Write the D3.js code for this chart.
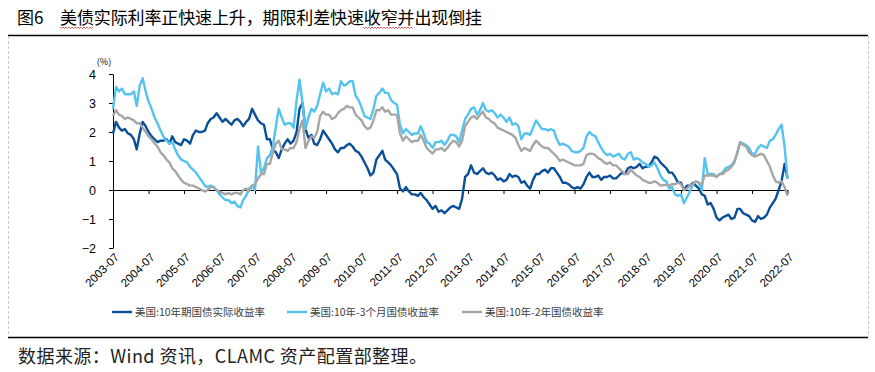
<!DOCTYPE html>
<html>
<head>
<meta charset="utf-8">
<script src="https://cdn.jsdelivr.net/npm/d3@7/dist/d3.min.js"></script>
<style>
  body { margin: 0; background: #fff; }
  svg { display: block; }
</style>
</head>
<body>
<svg id="chart" width="875" height="372"></svg>
<script>
// monthly values, first point = 2003-07, last point = 2022-07
const START_MONTH = '2003-07'

// 美国:10年期国债实际收益率
const realYield = [
  1.95, 2.35, 2.15, 2.05, 2.1, 1.95,
  1.9, 1.75, 1.4, 1.95, 2.35, 2.2, 2.0, 1.85, 1.75, 1.65, 1.7, 1.7,
  1.75, 1.6, 1.85, 1.65, 1.6, 1.55, 1.75, 1.7, 1.6, 1.9, 2.05, 2.0,
  2.0, 2.05, 2.3, 2.45, 2.5, 2.65, 2.5, 2.35, 2.45, 2.35, 2.25, 2.4,
  2.45, 2.35, 2.2, 2.35, 2.45, 2.8, 2.6, 2.4, 2.3, 2.25, 1.75, 1.75,
  1.4, 1.3, 1.1, 1.4, 1.6, 1.75, 1.6, 1.7, 2.0, 2.8, 3.0, 2.1,
  1.8, 1.9, 1.6, 1.55, 1.75, 2.05, 1.9, 1.75, 1.6, 1.4, 1.3, 1.45,
  1.45, 1.55, 1.6, 1.5, 1.35, 1.3, 1.15, 0.95, 0.75, 0.5, 0.6, 1.05,
  1.2, 1.35, 1.05, 0.95, 0.85, 0.7, 0.55, 0.05, -0.05, 0.1, -0.05, -0.15,
  -0.15, -0.2, -0.1, -0.25, -0.35, -0.5, -0.65, -0.55, -0.75, -0.7, -0.8, -0.7,
  -0.6, -0.55, -0.6, -0.65, -0.3, 0.45, 0.55, 0.85, 0.6, 0.55, 0.65, 0.75,
  0.6, 0.55, 0.6, 0.5, 0.35, 0.4, 0.3, 0.35, 0.55, 0.45, 0.5, 0.45,
  0.25, 0.3, 0.15, 0.05, 0.35, 0.55, 0.55, 0.65, 0.7, 0.6, 0.75, 0.75,
  0.6, 0.45, 0.25, 0.25, 0.2, 0.1, 0.05, 0.1, 0.05, 0.2, 0.45, 0.6,
  0.45, 0.45, 0.5, 0.35, 0.45, 0.45, 0.5, 0.4, 0.4, 0.5, 0.6, 0.55,
  0.75, 0.8, 0.75, 0.8, 0.9, 0.75, 0.8, 0.8, 0.95, 1.15, 1.1, 0.95,
  0.85, 0.75, 0.6, 0.6, 0.45, 0.25, 0.25, 0.0, 0.15, 0.15, 0.25, 0.15,
  0.05, -0.15, -0.2, -0.5, -0.45, -0.65, -0.95, -1.05, -0.95, -0.9, -0.85, -1.0,
  -0.95, -0.65, -0.65, -0.8, -0.85, -0.9, -1.05, -1.1, -0.9, -1.0, -0.95, -0.85,
  -0.6, -0.45, -0.3, 0.0, 0.3, 0.9, 0.4
]

// 美国:10年-3个月国债收益率
const spread3m = [
  2.8, 3.55, 3.4, 3.5, 3.3, 3.3,
  3.3, 3.4, 2.9, 3.6, 3.85, 3.4, 3.05, 2.8, 2.5, 2.3, 2.05, 1.85,
  1.7, 1.6, 1.65, 1.4, 1.2, 1.05, 1.0, 0.95, 0.8, 0.7, 0.6, 0.45,
  0.3, 0.15, 0.1, 0.15, 0.1, 0.0, -0.15, -0.25, -0.35, -0.35, -0.45, -0.4,
  -0.55, -0.6, -0.35, -0.2, 0.05, 0.15, 0.0, 1.5, 0.6, 0.75, 1.1, 1.2,
  1.5, 2.2, 2.8, 2.5, 2.25, 2.3, 2.3, 2.15, 3.1, 3.8, 3.0, 2.1,
  2.5, 2.8, 2.7, 2.9, 3.3, 3.7, 3.4, 3.5, 3.3, 3.35, 3.3, 3.75,
  3.6, 3.65, 3.75, 3.75, 3.25, 3.1, 2.85, 2.55, 2.5, 2.45, 2.8, 3.25,
  3.35, 3.5, 3.35, 3.35, 3.1, 3.0, 2.95, 2.25, 1.95, 2.1, 2.0, 1.9,
  1.95, 1.95, 2.2, 1.95, 1.65, 1.6, 1.45, 1.65, 1.65, 1.7, 1.55, 1.7,
  1.9, 1.9, 1.85, 1.65, 2.05, 2.45, 2.6, 2.8, 2.85, 2.6, 2.75, 3.0,
  2.75, 2.7, 2.75, 2.65, 2.5, 2.6, 2.5, 2.35, 2.5, 2.25, 2.3, 2.2,
  1.75, 1.95, 1.95, 1.9, 2.15, 2.4, 2.25, 2.1, 2.1, 2.05, 2.1, 2.05,
  1.75, 1.55, 1.6, 1.55, 1.5, 1.35, 1.3, 1.3, 1.35, 1.45, 1.85, 2.0,
  1.9, 1.85, 1.65, 1.45, 1.3, 1.2, 1.25, 1.15, 1.2, 1.25, 1.1, 1.05,
  1.25, 1.3, 1.05, 1.1, 1.05, 0.95, 0.9, 0.8, 0.85, 0.95, 0.75, 0.5,
  0.35, 0.3, 0.05, 0.1, -0.15, -0.2, -0.15, -0.45, -0.25, -0.05, 0.2, 0.3,
  0.25, 0.0, 1.1, 0.55, 0.55, 0.55, 0.45, 0.55, 0.6, 0.75, 0.8, 0.85,
  1.0, 1.3, 1.65, 1.6, 1.55, 1.45, 1.25, 1.25, 1.45, 1.55, 1.5, 1.45,
  1.7, 1.75, 1.9, 2.1, 2.25, 1.5, 0.4
]

// 美国:10年-2年国债收益率
const spread2y = [
  2.55, 2.75, 2.6, 2.55, 2.45, 2.5,
  2.45, 2.4, 2.3, 2.3, 2.15, 2.0, 1.85, 1.75, 1.6, 1.5, 1.3, 1.2,
  1.05, 0.95, 0.75, 0.65, 0.5, 0.35, 0.25, 0.2, 0.15, 0.15, 0.1, 0.05,
  0.0, -0.05, 0.0, 0.1, 0.1, 0.0, -0.05, -0.1, -0.15, -0.1, -0.15, -0.1,
  -0.1, -0.15, 0.0, 0.05, -0.05, 0.15, 0.2, 0.4, 0.55, 0.55, 0.9, 0.9,
  1.3, 1.6, 1.7, 1.4, 1.4, 1.35, 1.45, 1.45, 1.65, 2.1, 2.4, 1.45,
  1.7, 1.85, 1.8, 2.0, 2.55, 2.7, 2.6, 2.6, 2.45, 2.5, 2.65, 2.75,
  2.8, 2.9, 2.85, 2.85, 2.6, 2.5, 2.4, 2.2, 2.1, 2.15, 2.4, 2.75,
  2.75, 2.85, 2.7, 2.75, 2.6, 2.6, 2.6, 1.95, 1.7, 1.85, 1.75, 1.65,
  1.7, 1.7, 1.9, 1.7, 1.45, 1.35, 1.25, 1.4, 1.4, 1.45, 1.35, 1.45,
  1.6, 1.7, 1.65, 1.5, 1.7, 2.2, 2.35, 2.5, 2.55, 2.45, 2.6, 2.7,
  2.5, 2.45, 2.35, 2.3, 2.15, 2.1, 2.05, 2.0, 1.95, 1.9, 1.8, 1.55,
  1.35, 1.45, 1.4, 1.35, 1.55, 1.7, 1.6, 1.5, 1.45, 1.45, 1.35, 1.25,
  1.15, 1.0, 1.05, 1.0, 0.95, 0.9, 0.85, 0.85, 0.85, 0.9, 1.2, 1.25,
  1.25, 1.2, 1.1, 1.05, 0.95, 0.9, 0.95, 0.85, 0.85, 0.75, 0.65, 0.55,
  0.55, 0.7, 0.6, 0.5, 0.45, 0.35, 0.3, 0.25, 0.25, 0.3, 0.25, 0.15,
  0.17, 0.17, 0.15, 0.2, 0.2, 0.25, 0.2, 0.0, 0.05, 0.15, 0.2, 0.3,
  0.25, 0.2, 0.5, 0.5, 0.5, 0.5, 0.45, 0.55, 0.55, 0.65, 0.7, 0.8,
  0.95, 1.3, 1.65, 1.55, 1.5, 1.3, 1.2, 1.15, 1.2, 1.25, 1.2, 1.0,
  0.8, 0.5, 0.3, 0.25, 0.3, 0.1, -0.2
]

const xTickLabels = [
  '2003-07', '2004-07', '2005-07', '2006-07', '2007-07', '2008-07', '2009-07',
  '2010-07', '2011-07', '2012-07', '2013-07', '2014-07', '2015-07', '2016-07',
  '2017-07', '2018-07', '2019-07', '2020-07', '2021-07', '2022-07'
]
const yTickValues = [-2, -1, 0, 1, 2, 3, 4]

const seriesNames = ['美国:10年期国债实际收益率', '美国:10年-3个月国债收益率', '美国:10年-2年国债收益率']
const seriesColors = ['#0b4f98', '#55c3f0', '#a6a6a6']

const TITLE_NO = '图6'
const TITLE = '美债实际利率正快速上升，期限利差快速收窄并出现倒挂'
const SOURCE = '数据来源：Wind 资讯，CLAMC 资产配置部整理。'

const CJK = '"Noto Sans CJK SC", "Noto Sans", sans-serif'
const LATIN = '"Liberation Sans", Arial, sans-serif'

const parseMonth = d3.timeParse('%Y-%m')
const start = parseMonth(START_MONTH)
const dates = realYield.map((_, i) => d3.timeMonth.offset(start, i))
const tickDates = xTickLabels.map(parseMonth)

const svg = d3.select('#chart')

const x = d3.scaleTime()
  .domain([tickDates[0], tickDates[tickDates.length - 1]])
  .range([113, 787.5])
const y = d3.scaleLinear().domain([-2, 4]).range([248, 74])

// frame: top / bottom rules, dashed side edges
svg.append('line').attr('x1', 8).attr('x2', 868).attr('y1', 35.5).attr('y2', 35.5)
  .attr('stroke', '#000').attr('stroke-width', 1.5)
svg.append('line').attr('x1', 8).attr('x2', 868).attr('y1', 337.5).attr('y2', 337.5)
  .attr('stroke', '#000').attr('stroke-width', 1.5)
;[8.5, 868.5].forEach(xx => {
  svg.append('line').attr('x1', xx).attr('x2', xx).attr('y1', 36).attr('y2', 337)
    .attr('stroke', '#c8c8c8').attr('stroke-width', 1).attr('stroke-dasharray', '3,2')
})

// title
const title = svg.append('text').attr('y', 24).attr('font-family', CJK).attr('font-size', 17).attr('fill', '#000')
title.append('tspan').attr('x', 17).text(TITLE_NO)
title.append('tspan').attr('x', 60).attr('textLength', 422).attr('lengthAdjust', 'spacing').text(TITLE)

// spell-check squiggles under 美债 and 收窄并
function squiggle(x0, x1, yy) {
  const pts = []
  for (let xx = x0, k = 0; xx <= x1; xx += 1.5, k++) pts.push([xx, yy + (k % 2 ? 1 : -0.5)])
  return d3.line()(pts)
}
;[[60, 93], [363, 413]].forEach(([a, b]) => {
  svg.append('path').attr('d', squiggle(a, b, 27.5)).attr('fill', 'none')
    .attr('stroke', '#e23c3c').attr('stroke-width', 0.8)
})

// y axis
const yAxis = svg.append('g')
  .attr('transform', 'translate(113,0)')
  .call(d3.axisLeft(y).tickValues(yTickValues).tickFormat(d3.format('d'))
    .tickSize(4).tickSizeOuter(0).tickPadding(13))
yAxis.selectAll('text').attr('font-family', LATIN).attr('font-size', 12.5).attr('fill', '#000')
yAxis.selectAll('line,path').attr('stroke', '#000')

svg.append('text').attr('x', 104).attr('y', 65).attr('text-anchor', 'middle')
  .attr('font-family', CJK).attr('font-size', 9).attr('fill', '#000').text('(%)')

// x axis at zero
const xAxis = svg.append('g')
  .attr('transform', `translate(0,${y(0)})`)
  .call(d3.axisBottom(x).tickValues(tickDates).tickSize(4).tickSizeOuter(0).tickFormat(''))
xAxis.selectAll('line,path').attr('stroke', '#000')

svg.append('g').selectAll('text')
  .data(tickDates)
  .join('text')
  .attr('transform', d => `translate(${x(d) + 4},255) rotate(-45)`)
  .attr('text-anchor', 'end')
  .attr('dy', '0.35em')
  .attr('font-family', LATIN)
  .attr('font-size', 11.5)
  .attr('fill', '#000')
  .text((d, i) => xTickLabels[i])

// series
const line = d3.line().x((d, i) => x(dates[i])).y(d => y(d))
const seriesData = [realYield, spread3m, spread2y]
svg.append('g').selectAll('path')
  .data(seriesData)
  .join('path')
  .attr('d', d => line(d))
  .attr('fill', 'none')
  .attr('stroke', (d, i) => seriesColors[i])
  .attr('stroke-width', 2.4)
  .attr('stroke-linejoin', 'round')

// legend
const legendX = [112, 287, 462]
const legend = svg.append('g').selectAll('g')
  .data(seriesNames)
  .join('g')
  .attr('transform', (d, i) => `translate(${legendX[i]},312)`)
legend.append('line').attr('x1', 0).attr('x2', 20).attr('y1', 0).attr('y2', 0)
  .attr('stroke', (d, i) => seriesColors[i]).attr('stroke-width', 2.4)
legend.append('text').attr('x', 23).attr('y', 4)
  .attr('font-family', CJK).attr('font-size', 10.5).attr('fill', '#404040')
  .text(d => d)

// source note
svg.append('text').attr('x', 18).attr('y', 363)
  .attr('font-family', CJK).attr('font-size', 18).attr('fill', '#222')
  .attr('textLength', 409).attr('lengthAdjust', 'spacing')
  .text(SOURCE)
</script>
</body>
</html>
